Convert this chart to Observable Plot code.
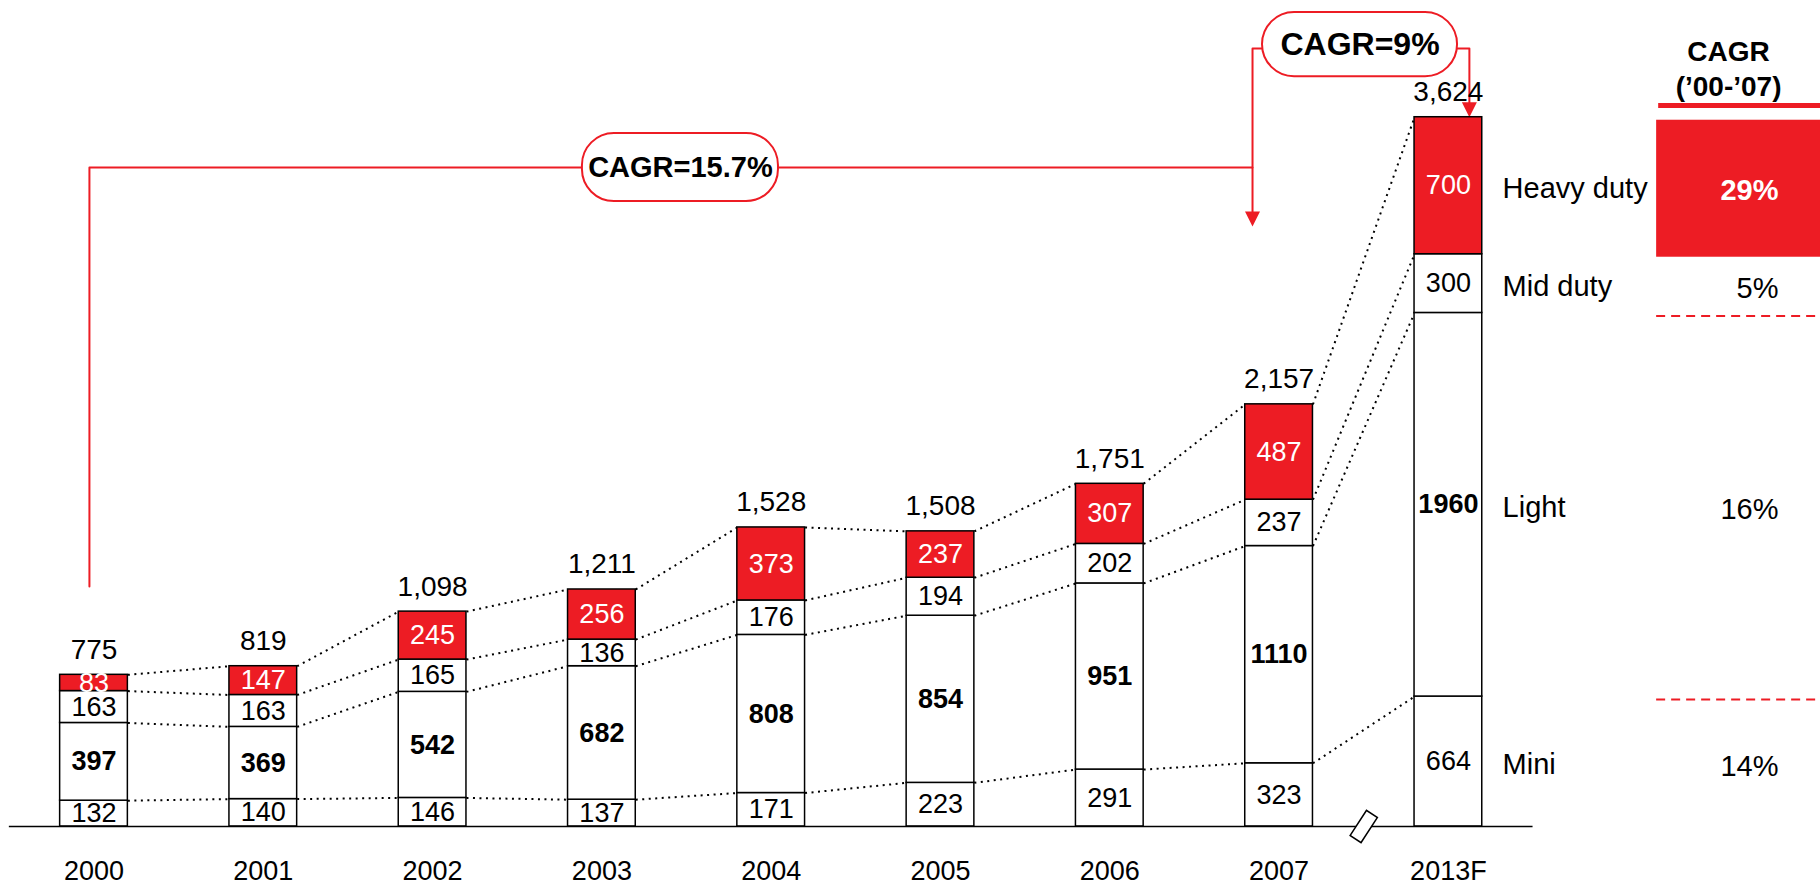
<!DOCTYPE html>
<html>
<head>
<meta charset="utf-8">
<script src="https://cdn.jsdelivr.net/npm/d3@7"></script>
<script src="https://cdn.jsdelivr.net/npm/@observablehq/plot@0.6"></script>
<style>
  html, body { margin: 0; padding: 0; background: #fff; overflow: hidden; }
  #chart svg { display: block; }
</style>
</head>
<body>
<div id="chart"></div>
<script>
// ---------------- data ----------------
const years = ["2000", "2001", "2002", "2003", "2004", "2005", "2006", "2007", "2013F"];
const segments = ["Mini", "Light", "Mid duty", "Heavy duty"];          // stacked bottom → top
const mini  = [132, 140, 146, 137, 171, 223, 291, 323, 664];
const light = [397, 369, 542, 682, 808, 854, 951, 1110, 1960];
const mid   = [163, 163, 165, 136, 176, 194, 202, 237, 300];
const heavy = [83, 147, 245, 256, 373, 237, 307, 487, 700];
const totals = [775, 819, 1098, 1211, 1528, 1508, 1751, 2157, 3624];
const segmentCagr = ["14%", "16%", "5%", "29%"];                       // CAGR ('00-'07) per segment
const cagrHeader = ["CAGR", "(\u201900-\u201907)"];
const cagrCallouts = ["CAGR=15.7%", "CAGR=9%"];

// ---------------- derived tables ----------------
const seriesValues = [mini, light, mid, heavy];
const rows = [];
years.forEach((year, i) => {
  let c = 0;
  segments.forEach((seg, s) => {
    const v = seriesValues[s][i];
    rows.push({i, year, seg, value: v, y1: c, y2: c + v, mid: c + v / 2});
    c += v;
  });
});
const totalRows = years.map((year, i) => ({i, year, total: totals[i]}));

// dotted connectors between consecutive bars, at each cumulative boundary
const BAR_HALF = 0.2;
const links = [];
for (let i = 0; i < years.length - 1; i++) {
  for (let s = 0; s < segments.length; s++) {
    const a = rows.find(r => r.i === i && r.seg === segments[s]);
    const b = rows.find(r => r.i === i + 1 && r.seg === segments[s]);
    links.push({x1: i + BAR_HALF, x2: i + 1 - BAR_HALF, y1: a.y2, y2: b.y2});
  }
}
const last = years.length - 1;
const lastRows = rows.filter(r => r.i === last).map((r, s) => ({...r, cagr: segmentCagr[s]}));

// ---------------- layout (annotation positions in data units) ----------------
const RED = "#ED1C24";
const COL_X1 = 9.23, COL_X2 = 10.2, COL_VAL_X = 9.95, COL_HEAD_X = 9.655, LEGEND_X = 8.32;
const arrowA = {x0: -0.027, yStart: 1226, yLevel: 3367, xT: 6.843, tip: 3066};
const arrowB = {yLevel: 3975, xR: 8.124};
const box1 = {cx: 3.464, cy: 3367, hw: 0.579, hh: 174, size: 29};
const box2 = {cx: 7.478, cy: 3995, hw: 0.576, hh: 164, size: 32};

const lineA = [
  {x: arrowA.x0, y: arrowA.yStart}, {x: arrowA.x0, y: arrowA.yLevel},
  {x: arrowA.xT, y: arrowA.yLevel}, {x: arrowA.xT, y: arrowA.tip + 40}
];
const lineB = [
  {x: arrowA.xT, y: arrowA.yLevel}, {x: arrowA.xT, y: arrowB.yLevel},
  {x: arrowB.xR, y: arrowB.yLevel}, {x: arrowB.xR, y: totals[last] + 40}
];
const tips = [{x: arrowA.xT, y: arrowA.tip}, {x: arrowB.xR, y: totals[last]}];

const arrowHead = {
  draw(ctx) { ctx.moveTo(-7.5, -15); ctx.lineTo(7.5, -15); ctx.lineTo(0, 0); ctx.closePath(); }
};
const breakMark = {
  draw(ctx) { ctx.rect(-6.5, -15, 13, 30); }
};

const fmt = d3.format(",");

const chart = Plot.plot({
  width: 1820,
  height: 883,
  marginLeft: 8.85,
  marginRight: 287.45,
  marginTop: 4,
  marginBottom: 57,
  x: {domain: [-0.5, 8.5], label: null},
  y: {domain: [0, 4200], axis: null, label: null},
  style: {fontFamily: "'Liberation Sans', Arial, Helvetica, sans-serif", fontSize: "27px", background: "#fff", color: "#000", overflow: "visible"},
  marks: [
    // callout connector lines (behind everything)
    Plot.line(lineA, {x: "x", y: "y", stroke: RED, strokeWidth: 2}),
    Plot.line(lineB, {x: "x", y: "y", stroke: RED, strokeWidth: 2}),
    Plot.dot(tips, {x: "x", y: "y", symbol: arrowHead, fill: RED, stroke: "none"}),

    // dotted connectors
    Plot.link(links, {x1: "x1", x2: "x2", y1: "y1", y2: "y2", stroke: "#000", strokeWidth: 2, strokeDasharray: "2,4.5"}),

    // stacked bars
    Plot.rect(rows, {
      x1: d => d.i - BAR_HALF, x2: d => d.i + BAR_HALF, y1: "y1", y2: "y2",
      fill: d => d.seg === "Heavy duty" ? RED : "#fff", stroke: "#000", strokeWidth: 1.5
    }),

    // baseline
    Plot.ruleY([{y: 0, x1: -0.5, x2: 8.5}], {y: "y", x1: "x1", x2: "x2", stroke: "#000", strokeWidth: 1.5}),

    // break symbol between 2007 and 2013F
    Plot.dot([{x: 7.5, y: 0}], {x: "x", y: "y", symbol: breakMark, fill: "#fff", stroke: "#000", strokeWidth: 1.5, rotate: 33}),

    // segment labels
    Plot.text(rows.filter(d => d.seg === "Mini" || d.seg === "Mid duty"),
      {x: "i", y: "mid", text: d => String(d.value), fill: "#000", fontSize: 27}),
    Plot.text(rows.filter(d => d.seg === "Light"),
      {x: "i", y: "mid", text: d => String(d.value), fill: "#000", fontSize: 27, fontWeight: "bold"}),
    Plot.text(rows.filter(d => d.seg === "Heavy duty"),
      {x: "i", y: "mid", text: d => String(d.value), fill: "#fff", fontSize: 27}),

    // totals
    Plot.text(totalRows, {x: "i", y: "total", text: d => fmt(d.total), dy: -25, fontSize: 28, fill: "#000"}),

    // x axis
    Plot.axisX(d3.range(years.length), {tickFormat: i => years[i], tickSize: 0, tickPadding: 34, fontSize: 27, label: null}),

    // segment legend next to last bar
    Plot.text(lastRows, {x: () => LEGEND_X, y: "mid", text: "seg", textAnchor: "start", dy: 3, fontSize: 29, fill: "#000"}),

    // CAGR column
    Plot.rect(lastRows.filter(d => d.seg === "Heavy duty"), {x1: () => COL_X1, x2: () => COL_X2, y1: "y1", y2: "y2", dy: 3, fill: RED}),
    Plot.ruleY(lastRows.filter(d => d.seg === "Light" || d.seg === "Mini"),
      {y: "y2", x1: () => COL_X1, x2: () => COL_X2, dy: 3, stroke: RED, strokeWidth: 2, strokeDasharray: "9,6"}),
    Plot.ruleY([{y: 3684}], {y: "y", x1: () => COL_X1 + 0.012, x2: () => COL_X2, stroke: RED, strokeWidth: 5}),
    Plot.text([{t: cagrHeader[0], y: 3955}, {t: cagrHeader[1], y: 3776}],
      {x: () => COL_HEAD_X, y: "y", text: "t", fontSize: 28, fontWeight: "bold", fill: "#000"}),
    Plot.text(lastRows.filter(d => d.seg !== "Heavy duty"),
      {x: () => COL_VAL_X, y: "mid", text: "cagr", textAnchor: "end", dy: 5, fontSize: 29, fill: "#000"}),
    Plot.text(lastRows.filter(d => d.seg === "Heavy duty"),
      {x: () => COL_VAL_X, y: "mid", text: "cagr", textAnchor: "end", dy: 5, fontSize: 29, fontWeight: "bold", fill: "#fff"}),

    // CAGR callout boxes
    Plot.rect([box1, box2], {
      x1: d => d.cx - d.hw, x2: d => d.cx + d.hw, y1: d => d.cy - d.hh, y2: d => d.cy + d.hh,
      rx: 32, fill: "#fff", stroke: RED, strokeWidth: 2
    }),
    Plot.text([{...box1, t: cagrCallouts[0]}], {x: "cx", y: "cy", text: "t", fontSize: box1.size, fontWeight: "bold", fill: "#000"}),
    Plot.text([{...box2, t: cagrCallouts[1]}], {x: "cx", y: "cy", text: "t", fontSize: box2.size, fontWeight: "bold", fill: "#000"})
  ]
});
document.getElementById("chart").appendChild(chart);
</script>
</body>
</html>
